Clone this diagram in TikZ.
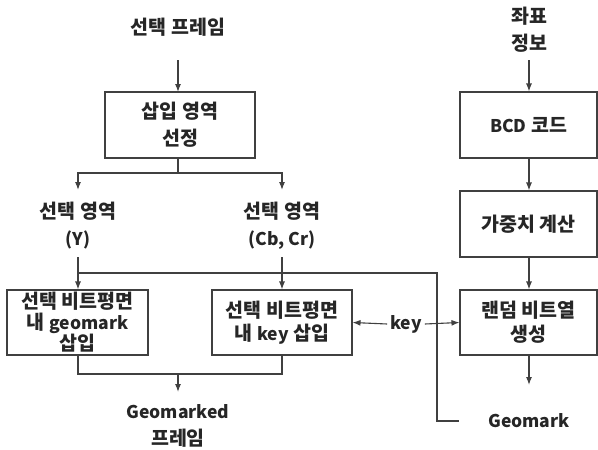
\documentclass[tikz,border=0pt]{standalone}
\usepackage{fontspec}
\setmainfont{Noto Sans CJK KR}
\usetikzlibrary{arrows.meta}
\newcommand\lat[1]{{\fontsize{17.5}{20}\selectfont #1}}
\begin{document}
\begin{tikzpicture}[x=1pt,y=-1pt,
  every node/.style={font=\fontsize{19.5}{27}\selectfont\bfseries, text=black!85, align=center, inner sep=0pt},
  boxnode/.style={draw=black!75, line width=1.1pt, minimum height=66pt},
  conn/.style={draw=black!75, line width=1.1pt},
  arr/.style={conn, -{Latex[length=8pt,width=6pt]}}]
\useasboundingbox (0,0) rectangle (598,450);
% left part
\node (t1) at (178,27) {선택 프레임};
\node[boxnode, minimum width=150pt] (b1) at (180,125) {삽입 영역\\선정};
\node (sy) at (78,226) {선택 영역\\\lat{(Y)}};
\node (sc) at (282,226) {선택 영역\\\lat{(Cb, Cr)}};
\node[boxnode, minimum width=141pt, minimum height=65pt, font=\fontsize{19.5}{20.5}\selectfont\bfseries] (bl) at (77.5,322.5) {선택 비트평면\\내 \lat{geomark}\\삽입};
\node[boxnode, minimum width=140pt, minimum height=65pt, font=\fontsize{19.5}{23}\selectfont\bfseries] (bm) at (282,322.5) {선택 비트평면\\내 \lat{key} 삽입};
\node (gm) at (178,426) {\lat{Geomarked}\\프레임};
\node (key) at (406,324) {\lat{key}};
% right column
\node (t2) at (529,30) {좌표\\정보};
\node[boxnode, minimum width=137pt] (r1) at (528.5,125) {\lat{BCD} 코드};
\node[boxnode, minimum width=137pt] (r2) at (528.5,224) {가중치 계산};
\node[boxnode, minimum width=137pt, minimum height=65pt, font=\fontsize{19.5}{24}\selectfont\bfseries] (r3) at (528.5,322.5) {랜덤 비트열\\생성};
\node (g) at (529,421) {\lat{Geomark}};
% coordinates
\coordinate (a1) at (178,60);
\coordinate (a1e) at (178,92);
\coordinate (sp) at (178,173);
\coordinate (spl) at (78,190);
\coordinate (spr) at (282,190);
\coordinate (yl) at (78,257);
\coordinate (cl) at (282,257);
\coordinate (hl) at (78,273);
\coordinate (hr) at (437,273);
\coordinate (gl) at (459,421);
\coordinate (jn) at (178,374);
\coordinate (jne) at (178,392);
\coordinate (a2) at (529,60);
\coordinate (a3) at (529,385);
% connectors
\draw[arr] (a1) -- (a1e);
\draw[conn] (b1.south -| sp) -- (sp);
\draw[arr] (sp) -| (spl);
\draw[arr] (sp) -| (spr);
\draw[arr] (yl) -- (bl.north -| yl);
\draw[arr] (cl) -- (bm.north -| cl);
\draw[conn] (hl) -- (hr) |- (gl);
\draw[conn] (bl.south -| yl) |- (jn) -| (bm.south -| cl);
\draw[arr] (jn) -- (jne);
\draw[arr] (key.west) ++(-3,0) -- (bm.east);
\draw[arr] (key.east) ++(3,0) -- (r3.west);
\draw[arr] (a2) -- (r1.north -| a2);
\draw[arr] (r1.south -| a2) -- (r2.north -| a2);
\draw[arr] (r2.south -| a2) -- (r3.north -| a2);
\draw[arr] (r3.south -| a2) -- (a3);
\end{tikzpicture}
\end{document}
